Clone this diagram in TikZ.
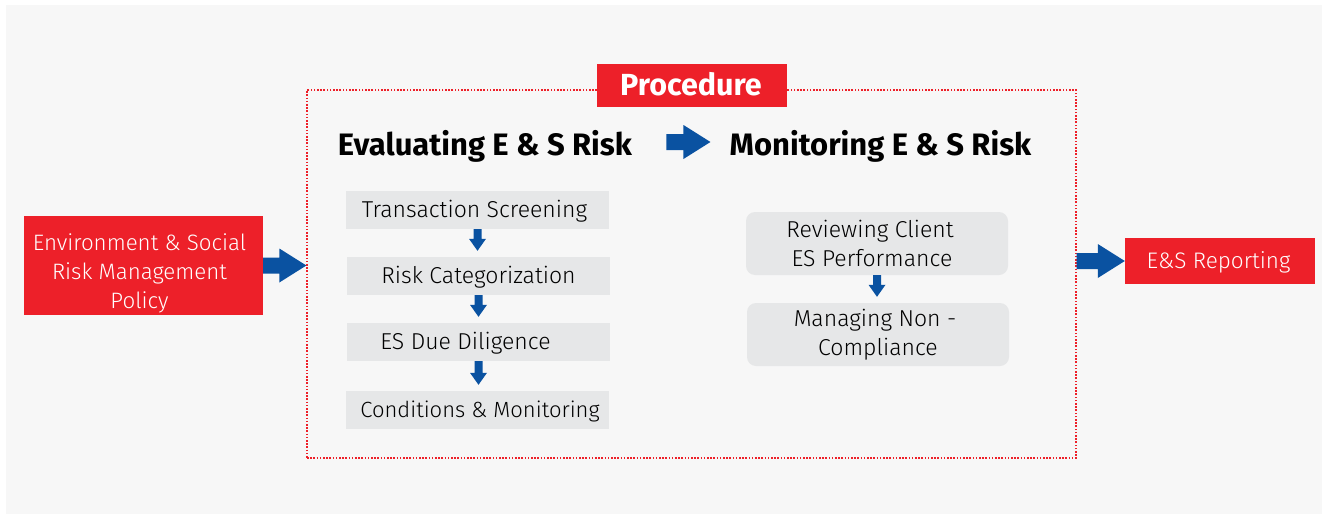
\documentclass[tikz,border=0pt]{standalone}
\usepackage{fontspec}
\setmainfont{Fira Sans}[UprightFont=* Light, BoldFont=* Bold]
\usetikzlibrary{calc}
\definecolor{brandred}{HTML}{ED2029}
\definecolor{brandblue}{HTML}{0A52A1}
\definecolor{stepgray}{HTML}{E6E7E8}
\definecolor{panelgray}{HTML}{F7F7F7}

% block arrows: #1 = start of the shaft, #2 = tip
\newcommand\hblock[2]{\fill[brandblue] ($(#1)+(0,-8)$) -- ($(#2)+(-27,-8)$) -- ($(#2)+(-27,-17)$) -- (#2) -- ($(#2)+(-27,17)$) -- ($(#2)+(-27,8)$) -- ($(#1)+(0,8)$) -- cycle;}
\newcommand\vblock[2]{\fill[brandblue] ($(#1)+(-4,0)$) -- ($(#2)+(-4,-12)$) -- ($(#2)+(-8.5,-12)$) -- (#2) -- ($(#2)+(8.5,-12)$) -- ($(#2)+(4,-12)$) -- ($(#1)+(4,0)$) -- cycle;}

\tikzset{
  redbox/.style={fill=brandred, text=white, inner sep=0pt, align=center,
    font=\fontsize{22.5}{29}\selectfont},
  redtext/.style={text=white, inner sep=0pt, align=center,
    font=\fontsize{22.3}{29}\selectfont},
  stepbox/.style={fill=stepgray, minimum width=263pt, minimum height=38pt,
    inner sep=0pt, text height=15.8pt, text depth=0pt,
    font=\fontsize{23}{28}\selectfont},
  roundstep/.style={fill=stepgray, rounded corners=9pt, minimum width=262pt,
    minimum height=63pt, inner sep=0pt, align=center,
    font=\fontsize{23}{28.5}\selectfont},
  heading/.style={inner sep=0pt, text height=21.4pt, text depth=0pt,
    font=\fontsize{31}{36}\selectfont\bfseries},
  frame/.style={draw=brandred, line width=1.3pt, dash pattern=on 1.6pt off 1.6pt,
    minimum width=769pt, minimum height=368pt, inner sep=0pt},
}

\begin{document}
\begin{tikzpicture}[x=1pt, y=-1pt]
  \useasboundingbox (0,0) rectangle (1328,514);
  \fill[white] (0,0) rectangle (1328,514);
  \fill[panelgray] (6,5) rectangle (1322,514);

  % procedure frame and its title
  \node[frame] (proc) at (691.5,274) {};
  \node[redbox, minimum width=190pt, minimum height=43pt, text height=20.7pt,
        text depth=0pt, font=\fontsize{30.5}{32}\selectfont\bfseries]
        (proct) at (692,85.5) {Procedure\hspace*{2pt}};

  % input and output
  \node[redbox, minimum width=239pt, minimum height=99pt] (pol) at (143.5,265.5) {};
  \node[redtext, xshift=-4pt, yshift=-8pt] (poltext) at (pol.center)
    {Environment \& Social\\Risk Management\\Policy};
  \node[redbox, minimum width=190pt, minimum height=46pt, text height=15.5pt,
        text depth=0pt] (rep) at (1220,261) {E\&S Reporting\hspace*{3pt}};

  % column headings
  \node[heading] (evalh) at (485,144.5) {Evaluating E \& S Risk};
  \node[heading] (monh) at (880.5,144.5) {Monitoring E \& S Risk};

  % evaluation steps
  \node[stepbox] (s1) at (477.5,210) {Transaction Screening\hspace*{6pt}};
  \node[stepbox] (s2) at (478.5,276) {Risk Categorization};
  \node[stepbox] (s3) at (478.5,342) {ES Due Diligence\hspace*{26pt}};
  \node[stepbox, font=\fontsize{22}{28}\selectfont] (s4) at (477.5,410)
    {\hspace*{5pt}Conditions \& Monitoring};

  % monitoring steps
  \node[roundstep] (r1) at (877,243.5)
    {Reviewing Client\hspace*{14pt}\\ES Performance\hspace*{10pt}};
  \node[roundstep] (r2) at (878,334.5) {Managing Non -\hspace*{6pt}\\Compliance};

  % connectors
  \hblock{pol.east}{pol.east -| proc.west}
  \coordinate (hs) at ($(evalh.east)+(34,-2.5)$);
  \coordinate (ht) at ($(monh.west)+(-19,-2.5)$);
  \hblock{hs}{hs -| ht}
  \hblock{rep.west -| proc.east}{rep.west}

  \coordinate (t1) at ($(s1.south |- s2.north)+(0,-6)$);
  \coordinate (t2) at ($(s2.south |- s3.north)+(0,-6)$);
  \coordinate (t3) at ($(s3.south |- s4.north)+(0,-6)$);
  \vblock{s1.south}{t1}
  \vblock{s2.south}{t2}
  \vblock{s3.south}{t3}
  \coordinate (t4) at ($(r1.south |- r2.north)+(0,-6)$);
  \vblock{r1.south}{t4}
\end{tikzpicture}
\end{document}
